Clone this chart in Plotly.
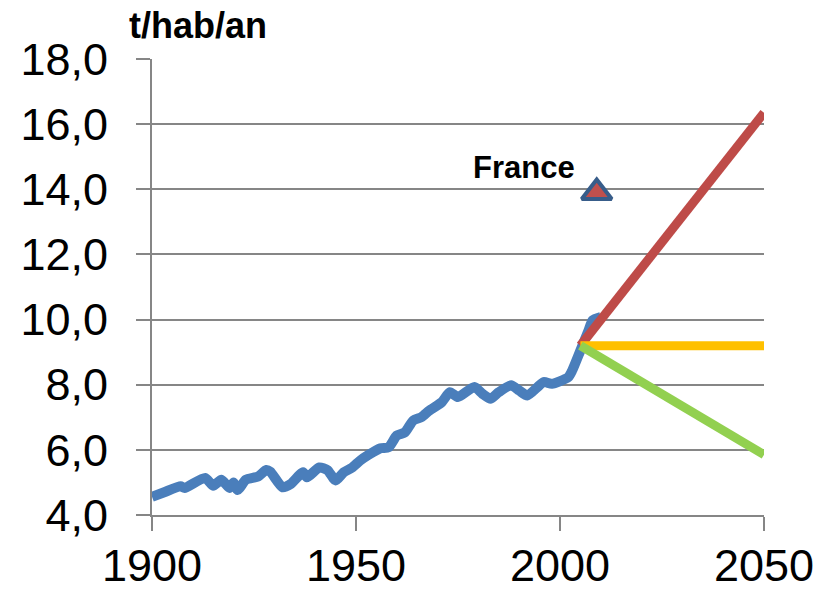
import plotly.graph_objects as go

# Historical series (t/hab/an)
hist_years = [1900, 1903, 1907, 1908, 1913, 1915, 1917, 1919, 1920, 1921, 1923, 1926, 1928, 1929,
              1932, 1934, 1937, 1938, 1941, 1943, 1945, 1947, 1949, 1951, 1953, 1956, 1958, 1960,
              1962, 1964, 1966, 1968, 1971, 1973, 1975, 1979, 1981, 1983, 1985, 1988, 1990, 1992,
              1996, 1998, 2002, 2003, 2005, 2007, 2008, 2010]
hist_values = [4.56, 4.70, 4.88, 4.83, 5.14, 4.90, 5.08, 4.83, 5.00, 4.77, 5.08, 5.18, 5.38, 5.33,
               4.85, 4.95, 5.31, 5.16, 5.46, 5.38, 5.06, 5.31, 5.45, 5.67, 5.84, 6.05, 6.08, 6.44,
               6.54, 6.90, 7.00, 7.21, 7.46, 7.77, 7.62, 7.93, 7.72, 7.57, 7.77, 7.98, 7.82, 7.67,
               8.08, 8.03, 8.23, 8.44, 9.05, 9.67, 9.98, 10.08]

# Scenarios
scen_years = [2005, 2050]
scen_high = [9.2, 16.35]
scen_flat = [9.2, 9.2]
scen_low = [9.2, 5.85]

# France point
france_year = [2009]
france_value = [13.9]
france_label = "France"

x_ticks = [1900, 1950, 2000, 2050]
y_ticks = [4, 6, 8, 10, 12, 14, 16, 18]

FONT = "Liberation Sans, Arial, sans-serif"
GRID = "#868686"

fig = go.Figure()
fig.add_trace(go.Scatter(x=hist_years, y=hist_values, mode="lines",
                         line=dict(color="#4A7EBB", width=10, shape="spline", smoothing=0.6),
                         cliponaxis=False, showlegend=False))
fig.add_trace(go.Scatter(x=scen_years, y=scen_high, mode="lines",
                         line=dict(color="#BE4B48", width=9), cliponaxis=False, showlegend=False))
fig.add_trace(go.Scatter(x=scen_years, y=scen_flat, mode="lines",
                         line=dict(color="#FFC000", width=9), cliponaxis=False, showlegend=False))
fig.add_trace(go.Scatter(x=scen_years, y=scen_low, mode="lines",
                         line=dict(color="#92D050", width=9), cliponaxis=False, showlegend=False))
fig.add_trace(go.Scatter(x=france_year, y=france_value, mode="markers",
                         marker=dict(symbol="triangle-up", size=26, color="#C0504D",
                                     line=dict(color="#385D8A", width=4)),
                         cliponaxis=False, showlegend=False))

fig.add_annotation(x=france_year[0], y=france_value[0], xref="x", yref="y",
                   text="<b>" + france_label + "</b>", showarrow=False,
                   xanchor="right", yanchor="bottom", xshift=-20, yshift=6,
                   font=dict(family=FONT, size=31, color="black"))
fig.add_annotation(x=(127 - 152) / 612, y=1 + (59 - 25) / 456, xref="paper", yref="paper",
                   text="<b>t/hab/an</b>", showarrow=False, xanchor="left", yanchor="middle",
                   font=dict(family=FONT, size=36, color="black"))

fig.update_layout(
    width=834, height=592,
    margin=dict(l=152, r=70, t=59, b=77, autoexpand=False),
    paper_bgcolor="white", plot_bgcolor="white",
    separators=", ",
    font=dict(family=FONT, color="black"),
    showlegend=False,
)

fig.update_xaxes(range=[1900, 2050], tickvals=x_ticks, tickformat="d",
                 showgrid=False, zeroline=False, automargin=False,
                 showline=True, linecolor=GRID, linewidth=2,
                 ticks="outside", ticklen=14, tickwidth=2, tickcolor=GRID,
                 ticklabelstandoff=-4,
                 tickfont=dict(family=FONT, size=45, color="black"))
fig.update_yaxes(range=[4, 18], tickvals=y_ticks, tickformat=".1f",
                 showgrid=True, gridcolor=GRID, gridwidth=1.5, zeroline=False, automargin=False,
                 showline=True, linecolor=GRID, linewidth=2,
                 ticks="outside", ticklen=14, tickwidth=2, tickcolor=GRID,
                 ticklabelstandoff=19,
                 tickfont=dict(family=FONT, size=45, color="black"))

fig.write_html("out.html", config={"displayModeBar": False},
               post_script="document.body.style.margin='0';document.body.style.overflow='hidden';")
